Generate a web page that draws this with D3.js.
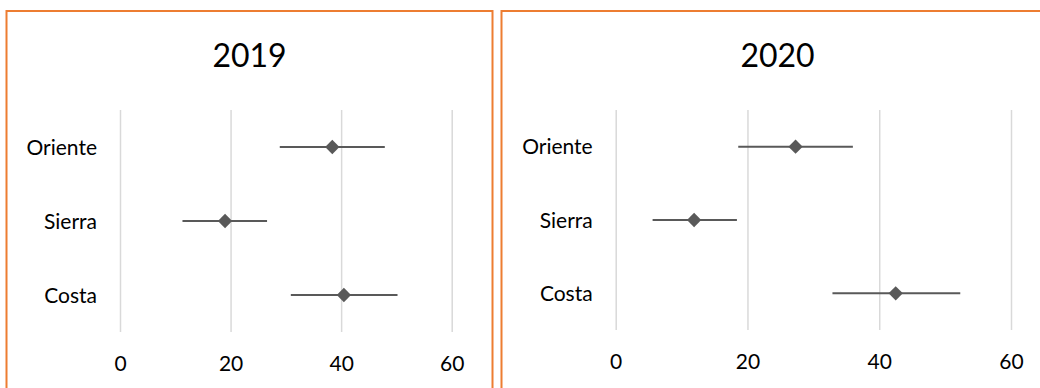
<!DOCTYPE html>
<html>
<head>
<meta charset="utf-8">
<script src="https://cdn.jsdelivr.net/npm/d3@7"></script>
<style>
  body { margin: 0; background: #fff; }
  text { font-family: Lato, "Open Sans", sans-serif; fill: #000; }
</style>
</head>
<body>
<script>
var width = 1040;
var height = 388;

// data
var regions = ['Oriente', 'Sierra', 'Costa'];
var years = ['2019', '2020'];
var xTicks = [0, 20, 40, 60];

var mean2019 = [38.4, 19.0, 40.5];
var low2019  = [28.9, 11.3, 30.9];
var high2019 = [47.9, 26.6, 50.2];

var mean2020 = [27.3, 11.9, 42.5];
var low2020  = [18.6, 5.6, 32.9];
var high2020 = [36.0, 18.4, 52.3];

var svg = d3.select('body')
  .append('svg')
  .attr('width', width)
  .attr('height', height);

// panel boxes + plot areas
var panels = [
  { year: years[0], mean: mean2019, low: low2019, high: high2019,
    box: [6.5, 492.5], plot: [120, 451.7], top: 110, bottom: 332 },
  { year: years[1], mean: mean2020, low: low2020, high: high2020,
    box: [501.5, 1053.5], plot: [615.7, 1011], top: 110, bottom: 330 }
];

panels.forEach(function(p) {
  var g = svg.append('g');

  // orange frame
  g.append('rect')
    .attr('x', p.box[0])
    .attr('y', 11)
    .attr('width', p.box[1] - p.box[0])
    .attr('height', 400)
    .attr('fill', 'none')
    .attr('stroke', '#ED7D31')
    .attr('stroke-width', 2);

  // title
  g.append('text')
    .attr('x', (p.box[0] + p.box[1]) / 2)
    .attr('y', 67)
    .attr('text-anchor', 'middle')
    .style('font-size', '32px')
    .text(p.year);

  var x = d3.scaleLinear().domain([0, 60]).range(p.plot);
  var y = d3.scaleBand().domain(regions).range([p.top, p.bottom]);

  // gridlines and tick labels
  var xAxis = d3.axisBottom(x)
    .tickValues(xTicks)
    .tickSize(-(p.bottom - p.top))
    .tickPadding(24);

  var ax = g.append('g')
    .attr('transform', 'translate(0,' + p.bottom + ')')
    .call(xAxis);
  ax.select('.domain').remove();
  ax.selectAll('line').attr('stroke', '#d9d9d9').attr('stroke-width', 1.5);
  ax.selectAll('text')
    .attr('fill', '#000')
    .style('font-size', '21px')
    .style('font-family', 'Lato, "Open Sans", sans-serif');

  // category labels
  g.selectAll('.cat')
    .data(regions)
    .enter()
    .append('text')
    .attr('class', 'cat')
    .attr('x', p.plot[0] - 23)
    .attr('y', function(d) { return y(d) + y.bandwidth() / 2; })
    .attr('dy', '0.36em')
    .attr('text-anchor', 'end')
    .style('font-size', '21px')
    .text(function(d) { return d; });

  // error bars
  g.selectAll('.err')
    .data(regions)
    .enter()
    .append('line')
    .attr('class', 'err')
    .attr('x1', function(d, i) { return x(p.low[i]); })
    .attr('x2', function(d, i) { return x(p.high[i]); })
    .attr('y1', function(d) { return y(d) + y.bandwidth() / 2; })
    .attr('y2', function(d) { return y(d) + y.bandwidth() / 2; })
    .attr('stroke', '#595959')
    .attr('stroke-width', 2);

  // diamond markers
  var diamond = d3.symbol().type(d3.symbolDiamond2).size(130);
  g.selectAll('.pt')
    .data(regions)
    .enter()
    .append('path')
    .attr('class', 'pt')
    .attr('d', diamond)
    .attr('transform', function(d, i) {
      return 'translate(' + x(p.mean[i]) + ',' + (y(d) + y.bandwidth() / 2) + ')';
    })
    .attr('fill', '#595959');
});
</script>
</body>
</html>
